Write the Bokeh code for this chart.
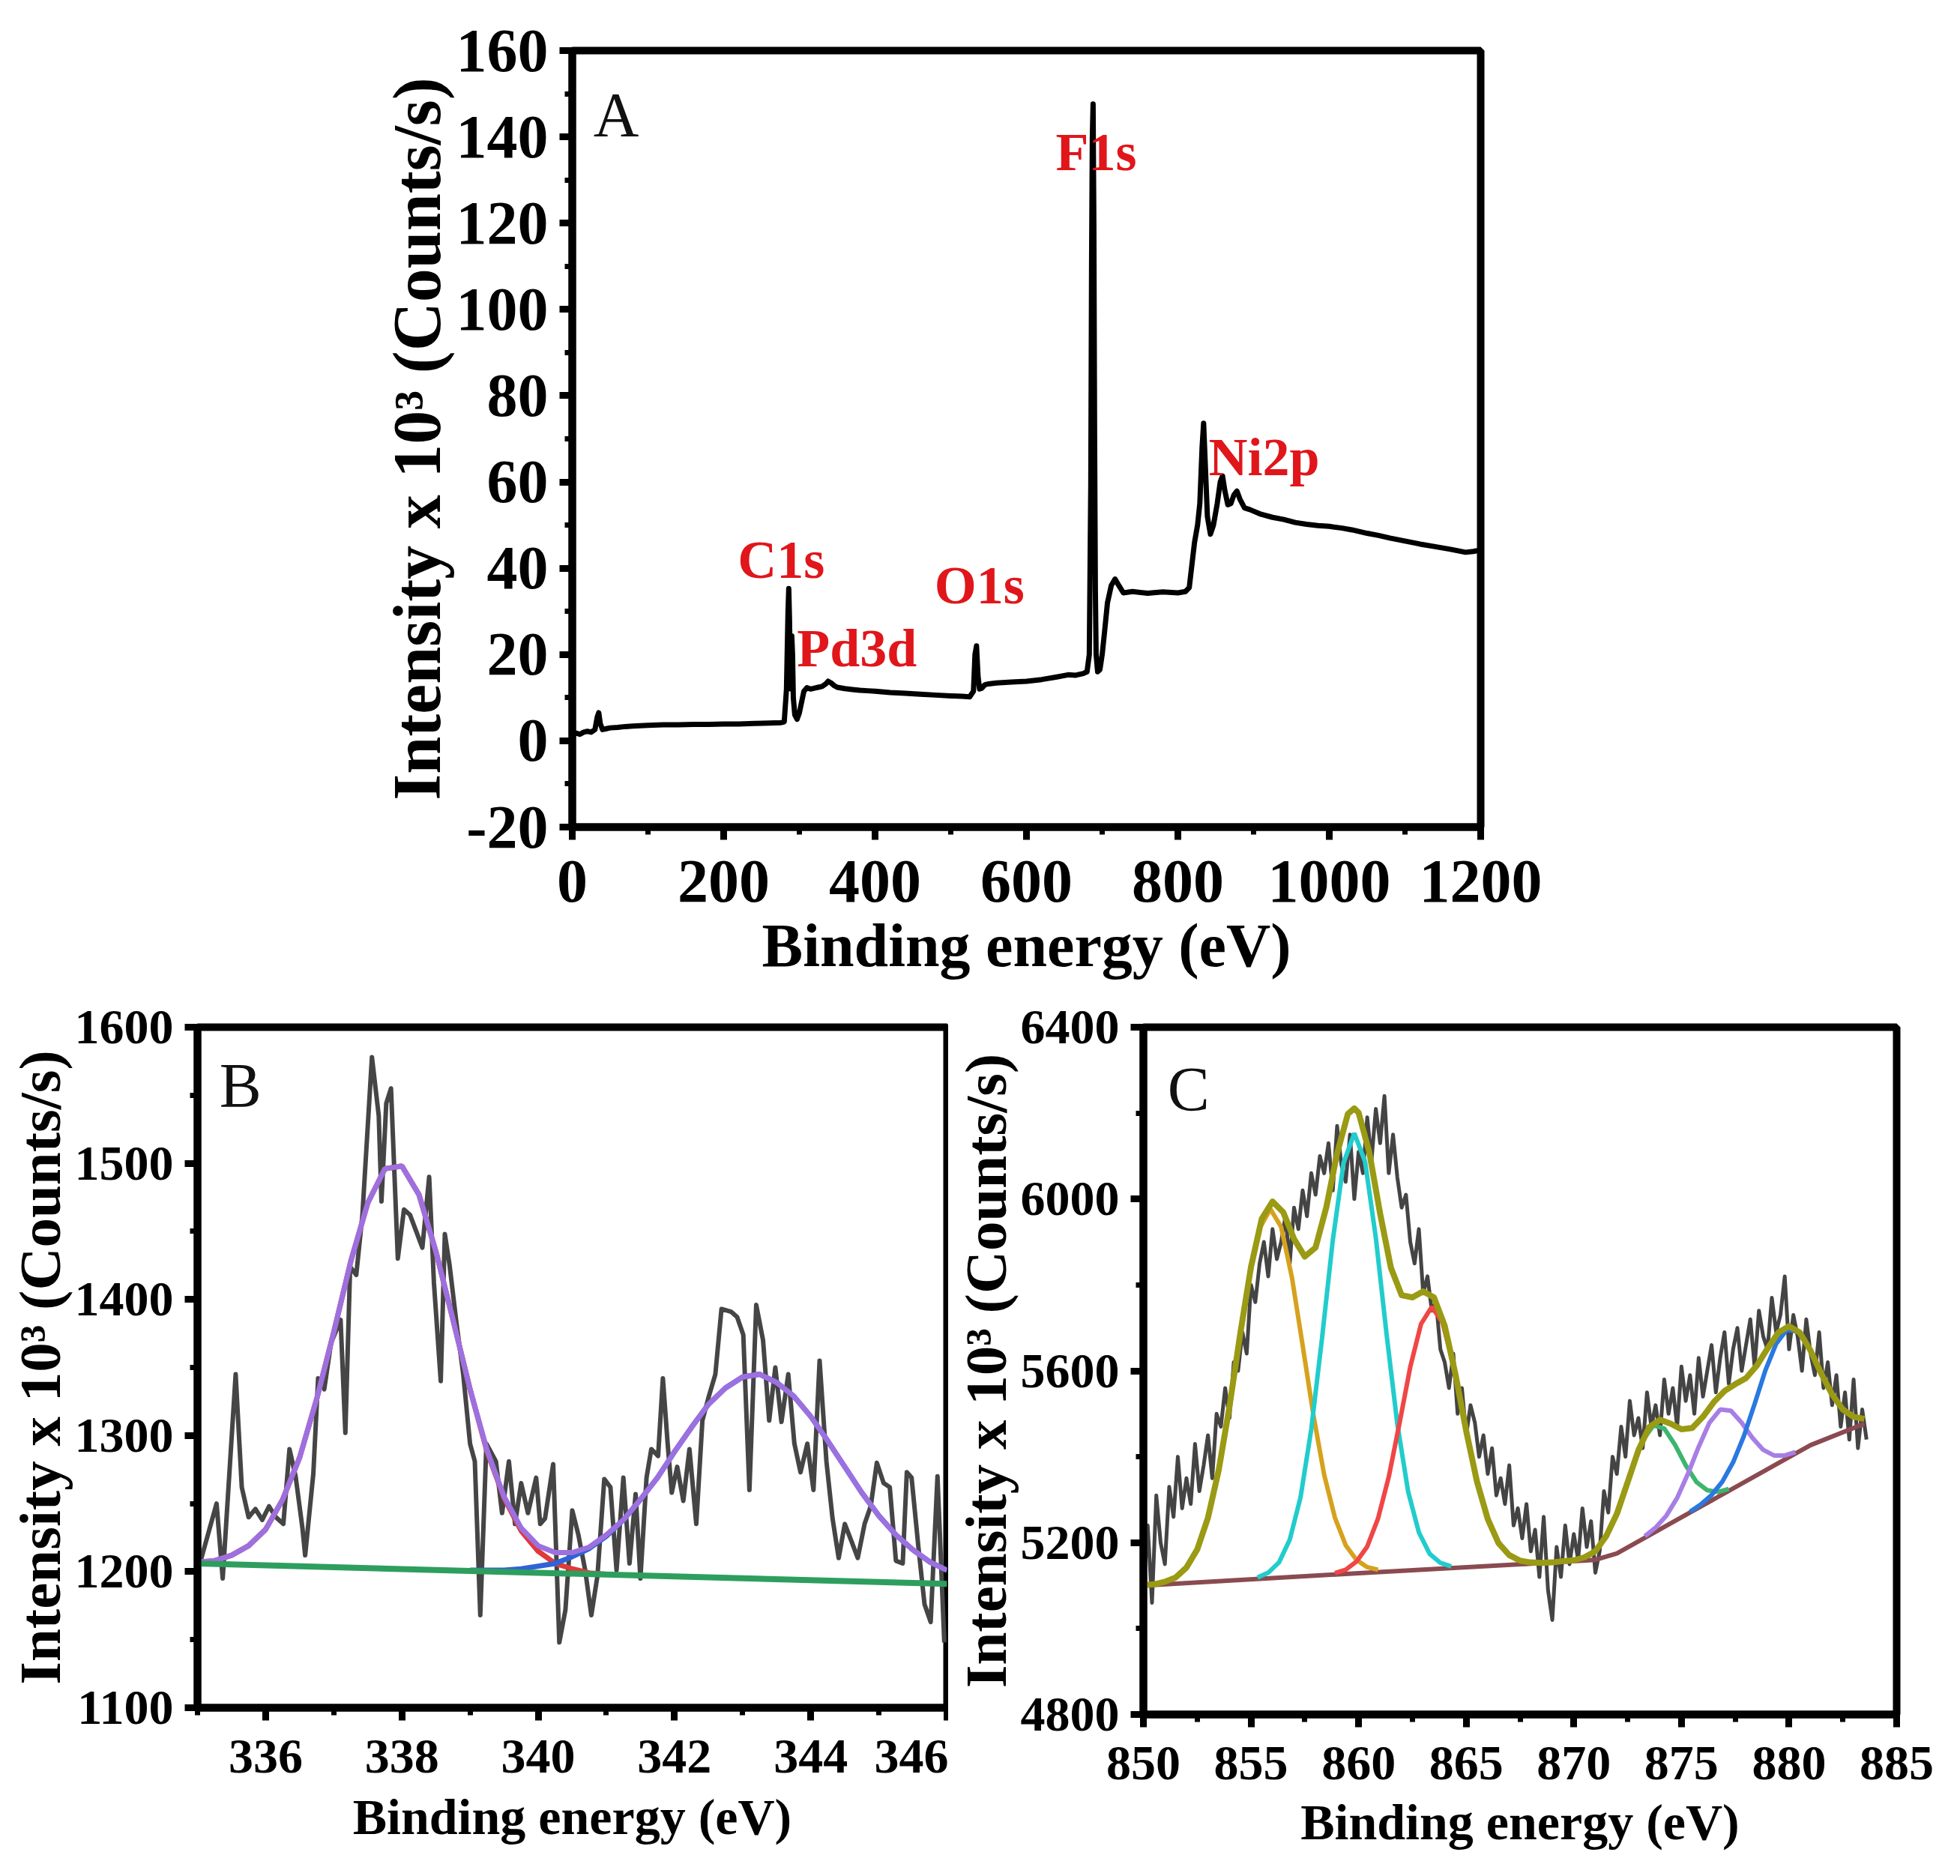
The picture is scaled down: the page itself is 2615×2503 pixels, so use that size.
from bokeh.plotting import figure
from bokeh.layouts import column, row
from bokeh.models import Range1d, SingleIntervalTicker, PrintfTickFormatter, Label
from bokeh.embed import file_html
from bokeh.resources import INLINE

# ---------------- Panel A : survey spectrum ----------------
A_energy = [0, 5, 10, 15, 20, 25, 30, 33, 35, 37, 40, 45, 50, 60, 70, 80, 90, 100, 120, 140,
            160, 180, 200, 220, 240, 260, 275, 280, 283, 285, 286, 287, 288, 289, 290, 291,
            292, 294, 297, 300, 303, 306, 310, 315, 320, 325, 330, 335, 338, 342, 346, 350,
            360, 370, 380, 390, 400, 420, 440, 460, 480, 500, 515, 525, 530, 532, 534, 536,
            538, 541, 545, 550, 560, 580, 600, 620, 640, 655, 665, 675, 680, 683, 685, 686,
            687, 688, 689, 690, 691, 692, 694, 697, 700, 703, 707, 712, 717, 722, 728, 740,
            760, 780, 800, 810, 815, 818, 822, 826, 829, 832, 834, 836, 839, 843, 847, 852,
            856, 859, 862, 866, 870, 874, 878, 882, 888, 895, 910, 925, 940, 955, 970, 985,
            1000, 1017, 1030, 1050, 1065, 1080, 1100, 1120, 1140, 1160, 1180, 1190, 1200]
A_intensity = [1.2, 1.8, 1.5, 2.0, 2.2, 2.0, 2.6, 5.5, 6.5, 4.0, 2.6, 2.8, 3.0, 3.1, 3.3, 3.4, 3.5, 3.6, 3.7, 3.7,
               3.8, 3.8, 3.9, 3.9, 4.0, 4.1, 4.2, 4.4, 12.0, 30.0, 35.3, 28.0, 15.0, 12.0, 24.3, 20.0,
               10.0, 6.0, 5.0, 6.5, 9.0, 11.5, 12.3, 12.0, 12.2, 12.4, 12.6, 13.2, 13.8, 13.4, 12.8, 12.4,
               12.1, 11.9, 11.7, 11.6, 11.5, 11.2, 11.0, 10.8, 10.6, 10.4, 10.3, 10.2, 11.5, 20.0, 22.0, 15.0,
               12.0, 12.2, 13.0, 13.2, 13.4, 13.6, 13.8, 14.2, 14.8, 15.3, 15.2, 15.6, 16.0, 20.0, 60.0, 110.0,
               140.0, 147.6, 120.0, 70.0, 35.0, 20.0, 16.0, 16.5, 20.0, 25.0, 32.0, 36.0, 37.5, 36.0, 34.3, 34.6,
               34.2, 34.5, 34.3, 34.6, 35.5, 40.0, 46.0, 50.0, 55.0, 68.0, 73.6, 65.0, 52.0, 47.9, 50.0, 55.0,
               60.0, 61.4, 58.0, 54.7, 55.0, 57.0, 57.9, 56.0, 54.0, 53.6, 52.5, 51.8, 51.3, 50.6, 50.2, 49.9,
               49.7, 49.3, 48.9, 48.1, 47.6, 47.0, 46.3, 45.6, 45.0, 44.4, 43.7, 43.9, 44.2]
A_peak_names = ["F1s", "Ni2p", "C1s", "Pd3d", "O1s"]
A_peak_x = [692, 914, 276, 376, 538]
A_peak_y = [136.5, 65.8, 42.0, 21.5, 36.0]

# ---------------- Panel B : Pd 3d ----------------
B_energy = [335.03, 335.28, 335.37, 335.56, 335.65, 335.75, 335.85, 335.95, 336.05, 336.15,
            336.26, 336.35, 336.44, 336.54, 336.58, 336.70, 336.77, 336.86, 336.96, 337.10,
            337.17, 337.24, 337.33, 337.42, 337.56, 337.66, 337.70, 337.77, 337.84, 337.94,
            338.03, 338.12, 338.21, 338.30, 338.40, 338.47, 338.57, 338.63, 338.70, 338.80,
            338.90, 339.00, 339.07, 339.15, 339.24, 339.38, 339.47, 339.57, 339.66, 339.75,
            339.85, 339.97, 340.03, 340.10, 340.22, 340.31, 340.40, 340.50, 340.59, 340.69,
            340.78, 340.87, 340.97, 341.06, 341.15, 341.25, 341.34, 341.43, 341.50, 341.59,
            341.66, 341.76, 341.83, 341.90, 341.96, 342.04, 342.13, 342.22, 342.32, 342.41,
            342.50, 342.60, 342.69, 342.83, 342.92, 343.01, 343.10, 343.20, 343.30, 343.39,
            343.48, 343.57, 343.67, 343.76, 343.85, 343.95, 344.04, 344.13, 344.23, 344.32,
            344.41, 344.50, 344.60, 344.69, 344.79, 344.88, 344.97, 345.07, 345.16, 345.25,
            345.35, 345.41, 345.48, 345.58, 345.67, 345.76, 345.86, 345.96]
B_counts = [1205, 1250, 1195, 1345, 1262, 1240, 1246, 1238, 1248, 1240,
            1235, 1290, 1270, 1232, 1212, 1272, 1342, 1334, 1368, 1385,
            1302, 1424, 1418, 1462, 1578, 1535, 1472, 1544, 1555, 1430,
            1466, 1462, 1450, 1438, 1490, 1412, 1340, 1448, 1425, 1383,
            1345, 1294, 1281, 1168, 1294, 1281, 1243, 1281, 1235, 1265,
            1243, 1269, 1235, 1239, 1279, 1148, 1172, 1245, 1227, 1201,
            1168, 1197, 1268, 1262, 1201, 1269, 1206, 1257, 1195, 1269,
            1290, 1285, 1342, 1294, 1258, 1277, 1252, 1290, 1235, 1311,
            1328, 1345, 1393, 1391, 1387, 1374, 1260, 1396, 1370, 1311,
            1350, 1310, 1345, 1294, 1273, 1294, 1260, 1355, 1281, 1239,
            1210, 1235, 1222, 1210, 1235, 1248, 1280, 1265, 1262, 1208,
            1206, 1273, 1269, 1218, 1176, 1163, 1270, 1148]
B_fit_energy = [335.0, 335.25, 335.5, 335.75, 336.0, 336.25, 336.5, 336.75, 337.0, 337.25,
                337.5, 337.75, 338.0, 338.25, 338.5, 338.75, 339.0, 339.25, 339.5, 339.75,
                340.0, 340.25, 340.5, 340.75, 341.0, 341.25, 341.5, 341.75, 342.0, 342.25,
                342.5, 342.75, 343.0, 343.25, 343.5, 343.75, 344.0, 344.25, 344.5, 344.75,
                345.0, 345.25, 345.5, 345.75, 346.0]
B_envelope = [1207, 1208, 1212, 1219, 1231, 1253, 1284, 1327, 1376, 1428,
              1471, 1496, 1498, 1477, 1435, 1385, 1334, 1289, 1255, 1232,
              1219, 1214, 1214, 1218, 1227, 1238, 1253, 1269, 1288, 1306,
              1323, 1335, 1343, 1345, 1339, 1329, 1314, 1296, 1277, 1258,
              1241, 1227, 1216, 1207, 1201]
B_p1_energy = [335.0, 335.25, 335.5, 335.75, 336.0, 336.25, 336.5, 336.75, 337.0, 337.25,
               337.5, 337.75, 338.0, 338.25, 338.5, 338.75, 339.0, 339.25, 339.5, 339.75,
               340.0, 340.25, 340.5, 340.75, 341.0]
B_p1 = [1207, 1208, 1212, 1219, 1231, 1253, 1284, 1327, 1376, 1428,
        1471, 1496, 1498, 1477, 1435, 1385, 1334, 1288, 1254, 1230,
        1215, 1206, 1202, 1199, 1198]
B_p2_energy = [339.0, 339.25, 339.5, 339.75, 340.0, 340.25, 340.5, 340.75, 341.0, 341.25,
               341.5, 341.75, 342.0, 342.25, 342.5, 342.75, 343.0, 343.25, 343.5, 343.75,
               344.0, 344.25, 344.5, 344.75, 345.0, 345.25, 345.5, 345.75, 346.0]
B_p2 = [1201, 1201, 1201, 1202, 1204, 1206, 1211, 1217, 1226, 1238,
        1253, 1269, 1288, 1306, 1323, 1335, 1343, 1345, 1339, 1329,
        1314, 1296, 1277, 1258, 1241, 1227, 1216, 1207, 1201]
B_base_energy = [335.0, 346.0]
B_base = [1206, 1191]

# ---------------- Panel C : Ni 2p ----------------
C_energy = [850.0, 850.2, 850.4, 850.6, 850.8, 851.0, 851.2, 851.4, 851.6, 851.8,
            852.0, 852.2, 852.4, 852.6, 852.8, 853.0, 853.2, 853.4, 853.6, 853.8,
            854.0, 854.2, 854.4, 854.6, 854.8, 855.0, 855.2, 855.4, 855.6, 855.8,
            856.0, 856.2, 856.4, 856.6, 856.8, 857.0, 857.2, 857.4, 857.6, 857.8,
            858.0, 858.2, 858.4, 858.6, 858.8, 859.0, 859.2, 859.4, 859.6, 859.8,
            860.0, 860.2, 860.4, 860.6, 860.8, 861.0, 861.2, 861.4, 861.6, 861.8,
            862.0, 862.2, 862.4, 862.6, 862.8, 863.0, 863.2, 863.4, 863.6, 863.8,
            864.0, 864.2, 864.4, 864.6, 864.8, 865.0, 865.2, 865.4, 865.6, 865.8,
            866.0, 866.2, 866.4, 866.6, 866.8, 867.0, 867.2, 867.4, 867.6, 867.8,
            868.0, 868.2, 868.4, 868.6, 868.8, 869.0, 869.2, 869.4, 869.6, 869.8,
            870.0, 870.2, 870.4, 870.6, 870.8, 871.0, 871.2, 871.4, 871.6, 871.8,
            872.0, 872.2, 872.4, 872.6, 872.8, 873.0, 873.2, 873.4, 873.6, 873.8,
            874.0, 874.2, 874.4, 874.6, 874.8, 875.0, 875.2, 875.4, 875.6, 875.8,
            876.0, 876.2, 876.4, 876.6, 876.8, 877.0, 877.2, 877.4, 877.6, 877.8,
            878.0, 878.2, 878.4, 878.6, 878.8, 879.0, 879.2, 879.4, 879.6, 879.8,
            880.0, 880.2, 880.4, 880.6, 880.8, 881.0, 881.2, 881.4, 881.6, 881.8,
            882.0, 882.2, 882.4, 882.6, 882.8, 883.0, 883.2, 883.4, 883.6]
C_counts = [5100, 5240, 5060, 5310, 5200, 5150, 5330, 5260, 5400, 5280,
            5350, 5290, 5430, 5320, 5380, 5450, 5350, 5500, 5470, 5560,
            5490, 5620, 5600, 5690, 5640, 5800, 5760, 5850, 5900, 5820,
            5930, 5860, 5900, 5960, 5850, 5980, 5930, 6020, 5960, 6060,
            6010, 6100, 6060, 6130, 6020, 6170, 6080, 6040, 6150, 6000,
            6110, 6060, 6190, 6090, 6210, 6130, 6240, 6060, 6150, 6050,
            5980, 6010, 5900, 5850, 5930, 5780, 5820, 5740, 5760, 5650,
            5620, 5560, 5640, 5500, 5560, 5450, 5520, 5480, 5400, 5450,
            5360, 5420, 5310, 5350, 5290, 5380, 5240, 5280, 5210, 5290,
            5180, 5230, 5120, 5260, 5090, 5020, 5190, 5120, 5240, 5150,
            5220, 5160, 5280, 5190, 5250, 5130, 5180, 5320, 5270, 5400,
            5360, 5470, 5400, 5530, 5450, 5490, 5420, 5550, 5470, 5520,
            5450, 5580, 5500, 5560, 5470, 5610, 5530, 5590, 5500, 5630,
            5540, 5600, 5660, 5550, 5630, 5690, 5570, 5650, 5700, 5600,
            5660, 5720, 5610, 5740, 5680, 5650, 5770, 5690, 5730, 5820,
            5650, 5730, 5680, 5600, 5720, 5640, 5590, 5690, 5560, 5620,
            5520, 5590, 5470, 5550, 5440, 5580, 5420, 5510, 5440]
C_base_energy = [850, 860, 868, 871, 872, 876, 880, 881, 883.5]
C_base = [5100, 5129, 5151, 5160, 5175, 5287, 5399, 5427, 5477]
C_env_energy = [850.0, 850.5, 851.0, 851.5, 852.0, 852.5, 853.0, 853.5, 854.0, 854.5,
                855.0, 855.5, 856.0, 856.5, 857.0, 857.5, 858.0, 858.5, 859.0, 859.5,
                859.8, 860.0, 860.5, 861.0, 861.5, 862.0, 862.5, 863.0, 863.5, 864.0,
                864.5, 865.0, 865.5, 866.0, 866.5, 867.0, 867.5, 868.0, 868.5, 869.0,
                869.5, 870.0, 870.5, 871.0, 871.5, 872.0, 872.5, 873.0, 873.5, 874.0,
                874.5, 875.0, 875.5, 876.0, 876.5, 877.0, 877.5, 878.0, 878.5, 879.0,
                879.5, 880.0, 880.5, 881.0, 881.5, 882.0, 882.5, 883.0, 883.5]
C_envelope = [5101, 5103, 5109, 5119, 5142, 5184, 5258, 5369, 5517, 5686,
              5842, 5954, 5994, 5969, 5907, 5866, 5887, 5981, 6106, 6198,
              6211, 6201, 6108, 5966, 5840, 5776, 5771, 5785, 5771, 5705,
              5592, 5460, 5342, 5255, 5199, 5171, 5158, 5154, 5153, 5154,
              5157, 5159, 5166, 5180, 5215, 5267, 5341, 5415, 5469, 5486,
              5477, 5464, 5467, 5493, 5527, 5553, 5569, 5583, 5612, 5652,
              5689, 5704, 5689, 5647, 5593, 5545, 5510, 5493, 5488]
C_p1_energy = [850.9, 851.4, 851.9, 852.4, 852.9, 853.4, 853.9, 854.4, 854.9, 855.4, 855.9,
               856.4, 856.9, 857.4, 857.9, 858.4, 858.9, 859.4, 859.9, 860.4, 860.9]
C_p1 = [5108, 5117, 5136, 5174, 5240, 5344, 5485, 5651, 5812, 5932, 5977,
        5935, 5818, 5659, 5497, 5358, 5258, 5194, 5160, 5143, 5137]
C_p2_energy = [855.3, 855.8, 856.3, 856.8, 857.3, 857.8, 858.3, 858.8, 859.3, 859.8,
               860.3, 860.8, 861.3, 861.8, 862.3, 862.8, 863.3, 863.8, 864.3]
C_p2 = [5119, 5130, 5154, 5207, 5305, 5464, 5676, 5904, 6084, 6153,
        6087, 5910, 5685, 5476, 5319, 5224, 5174, 5153, 5145]
C_p3_energy = [858.9, 859.4, 859.9, 860.4, 860.9, 861.4, 861.9, 862.4, 862.9, 863.4,
               863.9, 864.4, 864.9, 865.4, 865.9, 866.4, 866.9, 867.4, 867.9]
C_p3 = [5129, 5137, 5156, 5191, 5256, 5353, 5478, 5609, 5709, 5749,
        5712, 5615, 5486, 5365, 5270, 5208, 5176, 5160, 5154]
C_p4_energy = [870.2, 870.7, 871.2, 871.7, 872.2, 872.7, 873.2, 873.7, 874.2, 874.7,
               875.2, 875.7, 876.2, 876.7, 877.2]
C_p4 = [5162, 5170, 5192, 5233, 5296, 5372, 5438, 5473, 5466, 5428,
        5380, 5341, 5322, 5318, 5325]
C_p5_energy = [873.3, 873.8, 874.3, 874.8, 875.3, 875.8, 876.3, 876.8, 877.3, 877.8,
               878.3, 878.8, 879.3, 879.8, 880.3]
C_p5 = [5215, 5235, 5263, 5304, 5360, 5423, 5479, 5510, 5507, 5479,
        5444, 5416, 5403, 5403, 5411]
C_p6_energy = [875.4, 875.9, 876.4, 876.9, 877.4, 877.9, 878.4, 878.9, 879.4, 879.9,
               880.4, 880.9, 881.4, 881.9, 882.4, 882.9, 883.4]
C_p6 = [5272, 5289, 5311, 5342, 5387, 5448, 5523, 5601, 5663, 5696,
        5691, 5657, 5604, 5553, 5516, 5495, 5488]

FONT = "Liberation Serif"
YTITLE = "Intensity x 10\u00b3 (Counts/s)"
XTITLE = "Binding energy (eV)"


def style(p, xint, yint, tick_px, xt_px, yt_px, xstand, ystand, xlab_stand, ylab_stand):
    p.grid.visible = False
    p.outline_line_color = "black"
    p.outline_line_width = 10
    p.background_fill_color = "white"
    p.border_fill_color = "white"
    p.xaxis[0].ticker = SingleIntervalTicker(interval=xint, num_minor_ticks=2)
    p.yaxis[0].ticker = SingleIntervalTicker(interval=yint, num_minor_ticks=2)
    for ax in (p.xaxis[0], p.yaxis[0]):
        ax.axis_line_width = 10
        ax.axis_line_color = "black"
        ax.major_tick_line_width = 9
        ax.major_tick_out = 17
        ax.major_tick_in = 0
        ax.minor_tick_line_width = 7
        ax.minor_tick_out = 10
        ax.minor_tick_in = 0
        ax.major_label_text_font = FONT
        ax.major_label_text_font_style = "bold"
        ax.major_label_text_font_size = f"{tick_px}px"
        ax.major_label_text_color = "black"
        ax.axis_label_text_font = FONT
        ax.axis_label_text_font_style = "bold"
        ax.axis_label_text_color = "black"
        ax.formatter = PrintfTickFormatter(format="%d")
    p.xaxis[0].axis_label = XTITLE
    p.yaxis[0].axis_label = YTITLE
    p.xaxis[0].axis_label_text_font_size = f"{xt_px}px"
    p.yaxis[0].axis_label_text_font_size = f"{yt_px}px"
    p.xaxis[0].major_label_standoff = xstand
    p.yaxis[0].major_label_standoff = ystand
    p.xaxis[0].axis_label_standoff = xlab_stand
    p.yaxis[0].axis_label_standoff = ylab_stand


# ---------- figure A ----------
pA = figure(x_range=Range1d(0, 1200), y_range=Range1d(-20, 160),
            frame_width=1212, frame_height=1036,
            min_border_left=763, min_border_right=640, min_border_top=67, min_border_bottom=227,
            output_backend="svg", toolbar_location=None)
style(pA, 200, 20, 82, 82, 90, 28, 15, 10, 0)
pA.line(A_energy, A_intensity, line_color="black", line_width=7, line_join="round")
for name, x, y in zip(A_peak_names, A_peak_x, A_peak_y):
    pA.add_layout(Label(x=x, y=y, text=name, text_font=FONT, text_font_style="bold",
                        text_font_size="72px", text_color="#e0161b",
                        text_align="center", text_baseline="middle"))
pA.add_layout(Label(x=58, y=145, text="A", text_font=FONT, text_font_size="84px",
                    text_color="#111111", text_align="center", text_baseline="middle"))

# ---------- figure B ----------
pB = figure(x_range=Range1d(335, 346), y_range=Range1d(1100, 1600),
            frame_width=1000, frame_height=908,
            min_border_left=263, min_border_right=2, min_border_top=40, min_border_bottom=225,
            output_backend="svg", toolbar_location=None)
style(pB, 2, 100, 66, 68, 79, 26, 15, 18, 0)
pB.line(B_energy, B_counts, line_color="#454545", line_width=6, line_join="round")
pB.line(B_p1_energy, B_p1, line_color="#e03a3a", line_width=7)
pB.line(B_p2_energy, B_p2, line_color="#2f63d6", line_width=7)
pB.line(B_fit_energy, B_envelope, line_color="#9d70e0", line_width=7)
pB.line(B_base_energy, B_base, line_color="#2e9e5e", line_width=8)
pB.add_layout(Label(x=335.63, y=1557, text="B", text_font=FONT, text_font_size="84px",
                    text_color="#111111", text_align="center", text_baseline="middle"))

# ---------- figure C ----------
pC = figure(x_range=Range1d(850, 885), y_range=Range1d(4800, 6400),
            frame_width=1005, frame_height=917,
            min_border_left=260, min_border_right=85, min_border_top=38, min_border_bottom=218,
            output_backend="svg", toolbar_location=None)
style(pC, 5, 400, 66, 68, 79, 26, 15, 16, 0)
pC.line(C_energy, C_counts, line_color="#444444", line_width=5, line_join="round")
pC.line(C_base_energy, C_base, line_color="#8a4b50", line_width=6)
pC.line(C_p1_energy, C_p1, line_color="#d6a21e", line_width=6)
pC.line(C_p2_energy, C_p2, line_color="#22cccc", line_width=6)
pC.line(C_p3_energy, C_p3, line_color="#f04646", line_width=6)
pC.line(C_p4_energy, C_p4, line_color="#3db56f", line_width=6)
pC.line(C_p5_energy, C_p5, line_color="#a77ee6", line_width=6)
pC.line(C_p6_energy, C_p6, line_color="#2a78e0", line_width=6)
pC.line(C_env_energy, C_envelope, line_color="#9a9a14", line_width=8, line_join="round")
pC.add_layout(Label(x=852.1, y=6255, text="C", text_font=FONT, text_font_size="84px",
                    text_color="#111111", text_align="center", text_baseline="middle"))

layout = column(pA, row(pB, pC))
open("out.html", "w").write(file_html(layout, INLINE))
